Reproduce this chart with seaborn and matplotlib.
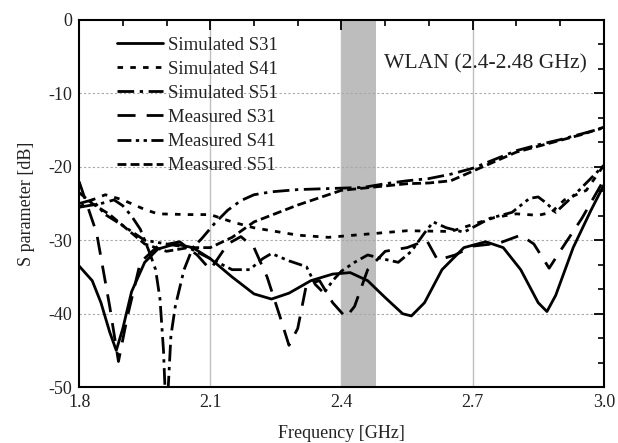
import numpy as np
import pandas as pd
import matplotlib
matplotlib.use("Agg")
import matplotlib.pyplot as plt
import seaborn as sns
from matplotlib.ticker import AutoMinorLocator

# ---- data ----
sim_s31_f = [1.80, 1.83, 1.85, 1.87, 1.885, 1.90, 1.92, 1.95, 1.98, 2.02, 2.06, 2.10, 2.15, 2.20, 2.24, 2.28,
             2.33, 2.38, 2.42, 2.46, 2.50, 2.54, 2.56, 2.59, 2.63, 2.68, 2.73, 2.77, 2.81, 2.85, 2.87, 2.89,
             2.93, 2.97, 3.00]
sim_s31_db = [-33.5, -35.5, -38.5, -42.5, -45.0, -42.0, -37.0, -33.0, -31.2, -30.5, -31.0, -32.5, -35.0, -37.3,
              -38.0, -37.2, -35.5, -34.6, -34.4, -35.5, -37.8, -40.0, -40.3, -38.5, -34.0, -31.0, -30.2, -31.0,
              -34.0, -38.5, -39.7, -37.5, -31.0, -26.0, -22.5]

sim_s41_f = [1.80, 1.83, 1.86, 1.90, 1.95, 1.98, 2.05, 2.10, 2.15, 2.20, 2.30, 2.37, 2.45, 2.55, 2.65, 2.75,
             2.80, 2.85, 2.88, 2.91, 2.96, 3.00]
sim_s41_db = [-25.5, -24.5, -23.8, -24.5, -25.8, -26.4, -26.5, -26.5, -27.5, -28.3, -29.3, -29.6, -29.2, -28.7,
              -28.8, -26.9, -26.4, -26.6, -26.2, -24.5, -23.2, -19.8]

sim_s51_f = [1.80, 1.85, 1.88, 1.90, 1.92, 1.94, 1.96, 1.975, 1.985, 1.993, 1.997, 2.003, 2.01, 2.02, 2.04,
             2.06, 2.08, 2.11, 2.14, 2.17, 2.20, 2.24, 2.30, 2.40, 2.45, 2.50, 2.55, 2.60, 2.65, 2.70, 2.75,
             2.80, 2.85, 2.90, 2.95, 3.00]
sim_s51_db = [-25.5, -25.0, -24.5, -25.3, -26.7, -28.5, -31.5, -34.0, -38.0, -45.0, -51.0, -51.0, -43.0, -39.0,
              -34.0, -31.0, -29.8, -27.7, -25.9, -24.6, -23.8, -23.4, -23.1, -22.9, -22.8, -22.3, -21.9, -21.6,
              -21.0, -20.2, -19.0, -17.8, -17.0, -16.3, -15.5, -14.7]

meas_s31_f = [1.80, 1.84, 1.87, 1.89, 1.91, 1.94, 1.98, 2.03, 2.07, 2.10, 2.14, 2.17, 2.20, 2.23, 2.26, 2.28,
              2.30, 2.32, 2.35, 2.38, 2.41, 2.43, 2.46, 2.50, 2.55, 2.595, 2.62, 2.66, 2.70, 2.76, 2.81, 2.84,
              2.875, 2.90, 2.95, 3.00]
meas_s31_db = [-22.0, -29.0, -39.0, -46.5, -40.5, -33.0, -30.8, -30.2, -32.0, -34.0, -30.5, -29.5, -31.0, -35.0,
               -40.5, -44.3, -42.0, -36.0, -35.5, -38.5, -40.5, -39.0, -34.0, -31.5, -31.0, -30.0, -32.7, -32.0,
               -30.8, -30.4, -29.3, -30.5, -33.8, -31.5, -27.0, -21.8]

meas_s41_f = [1.80, 1.83, 1.86, 1.90, 1.95, 2.00, 2.05, 2.10, 2.15, 2.19, 2.22, 2.24, 2.28, 2.32, 2.34, 2.36,
              2.38, 2.40, 2.43, 2.46, 2.50, 2.53, 2.56, 2.59, 2.61, 2.64, 2.68, 2.74, 2.79, 2.83, 2.85, 2.87,
              2.89, 2.94, 3.00]
meas_s41_db = [-25.0, -24.5, -26.5, -28.0, -30.0, -30.5, -31.0, -32.5, -34.0, -34.0, -32.5, -31.8, -32.8, -33.6,
               -36.0, -37.2, -35.5, -34.2, -33.0, -32.0, -32.6, -33.0, -31.5, -29.0, -27.5, -28.3, -28.9, -27.0,
               -26.2, -24.3, -24.1, -25.0, -26.2, -23.4, -19.8]

meas_s51_f = [1.80, 1.83, 1.87, 1.90, 1.95, 2.00, 2.05, 2.10, 2.15, 2.20, 2.30, 2.40, 2.45, 2.50, 2.55, 2.60,
              2.65, 2.70, 2.75, 2.80, 2.85, 2.90, 2.95, 3.00]
meas_s51_db = [-23.5, -25.0, -26.5, -28.0, -30.5, -31.5, -31.0, -31.0, -29.6, -27.5, -25.2, -23.2, -22.9, -22.6,
               -22.3, -22.2, -21.9, -20.6, -19.3, -18.0, -17.2, -16.4, -15.6, -14.6]

labels = ["Simulated S31", "Simulated S41", "Simulated S51",
          "Measured S31", "Measured S41", "Measured S51"]
freqs = [sim_s31_f, sim_s41_f, sim_s51_f, meas_s31_f, meas_s41_f, meas_s51_f]
vals = [sim_s31_db, sim_s41_db, sim_s51_db, meas_s31_db, meas_s41_db, meas_s51_db]

band = (2.40, 2.48)
band_label = "WLAN (2.4-2.48 GHz)"
x_ticks = [1.8, 2.1, 2.4, 2.7, 3.0]
y_ticks = [0, -10, -20, -30, -40, -50]

df = pd.concat([pd.DataFrame({"f": f, "s": v, "series": lab}) for f, v, lab in zip(freqs, vals, labels)],
               ignore_index=True)

dashes = {
    "Simulated S31": "",
    "Simulated S41": (2.0, 2.6),
    "Simulated S51": (6.0, 2.0, 1.2, 2.0),
    "Measured S31": (6.5, 4.0),
    "Measured S41": (5.0, 1.6, 1.2, 1.6, 1.2, 1.6),
    "Measured S51": (3.2, 1.5),
}

sns.set_theme(style="white")
plt.rcParams["font.family"] = ["Liberation Serif", "DejaVu Serif"]

fig = plt.figure(figsize=(6.18, 4.43), dpi=100)
ax = fig.add_axes([0.128, 0.126, 0.849, 0.829])

ax.axvspan(band[0], band[1], color="#bdbdbd", zorder=0, lw=0)
for xv in [2.1, 2.4, 2.7]:
    ax.axvline(xv, color="#c0c0c0", lw=1.0, zorder=0.5)
for yv in [-10, -20, -30, -40]:
    ax.axhline(yv, color="#a8a8a8", lw=0.8, ls=(0, (2, 2)), zorder=0.5)

sns.lineplot(data=df, x="f", y="s", style="series", style_order=labels, dashes=dashes,
             color="black", lw=2.0, estimator=None, sort=False, ax=ax, legend=True)

ax.set_xlim(1.8, 3.0)
ax.set_ylim(-50, 0)
ax.set_xticks(x_ticks)
ax.set_xticklabels([f"{t:.1f}" for t in x_ticks])
ax.set_yticks(y_ticks)
ax.set_yticklabels([f"{t:d}" for t in y_ticks])
ax.xaxis.set_minor_locator(AutoMinorLocator(3))
ax.yaxis.set_minor_locator(AutoMinorLocator(3))
ax.tick_params(which="both", direction="in", top=True, right=True, color="black", labelsize=13,
               labelcolor="#222222", pad=5)
ax.tick_params(which="major", length=7, width=1.3)
ax.tick_params(which="minor", length=4.5, width=1.2)
for sp in ax.spines.values():
    sp.set_color("black")
    sp.set_linewidth(1.5)

ax.set_xlabel("Frequency [GHz]", fontsize=13, color="#222222", labelpad=10)
ax.set_ylabel("S parameter [dB]", fontsize=13, color="#222222")
ax.yaxis.set_label_coords(-0.084, 0.5)

ax.text(0.967, 0.88, band_label, transform=ax.transAxes, ha="right", va="center",
        fontsize=15.6, color="#222222")

handles, labs = ax.get_legend_handles_labels()
leg = ax.legend(handles, labs, loc="upper left", bbox_to_anchor=(0.05, 0.985), frameon=False,
                fontsize=13.5, handlelength=2.5, handletextpad=0.25, labelspacing=0.37,
                borderaxespad=0.2)
for t in leg.get_texts():
    t.set_color("#222222")

fig.savefig("out.png", dpi=100)
